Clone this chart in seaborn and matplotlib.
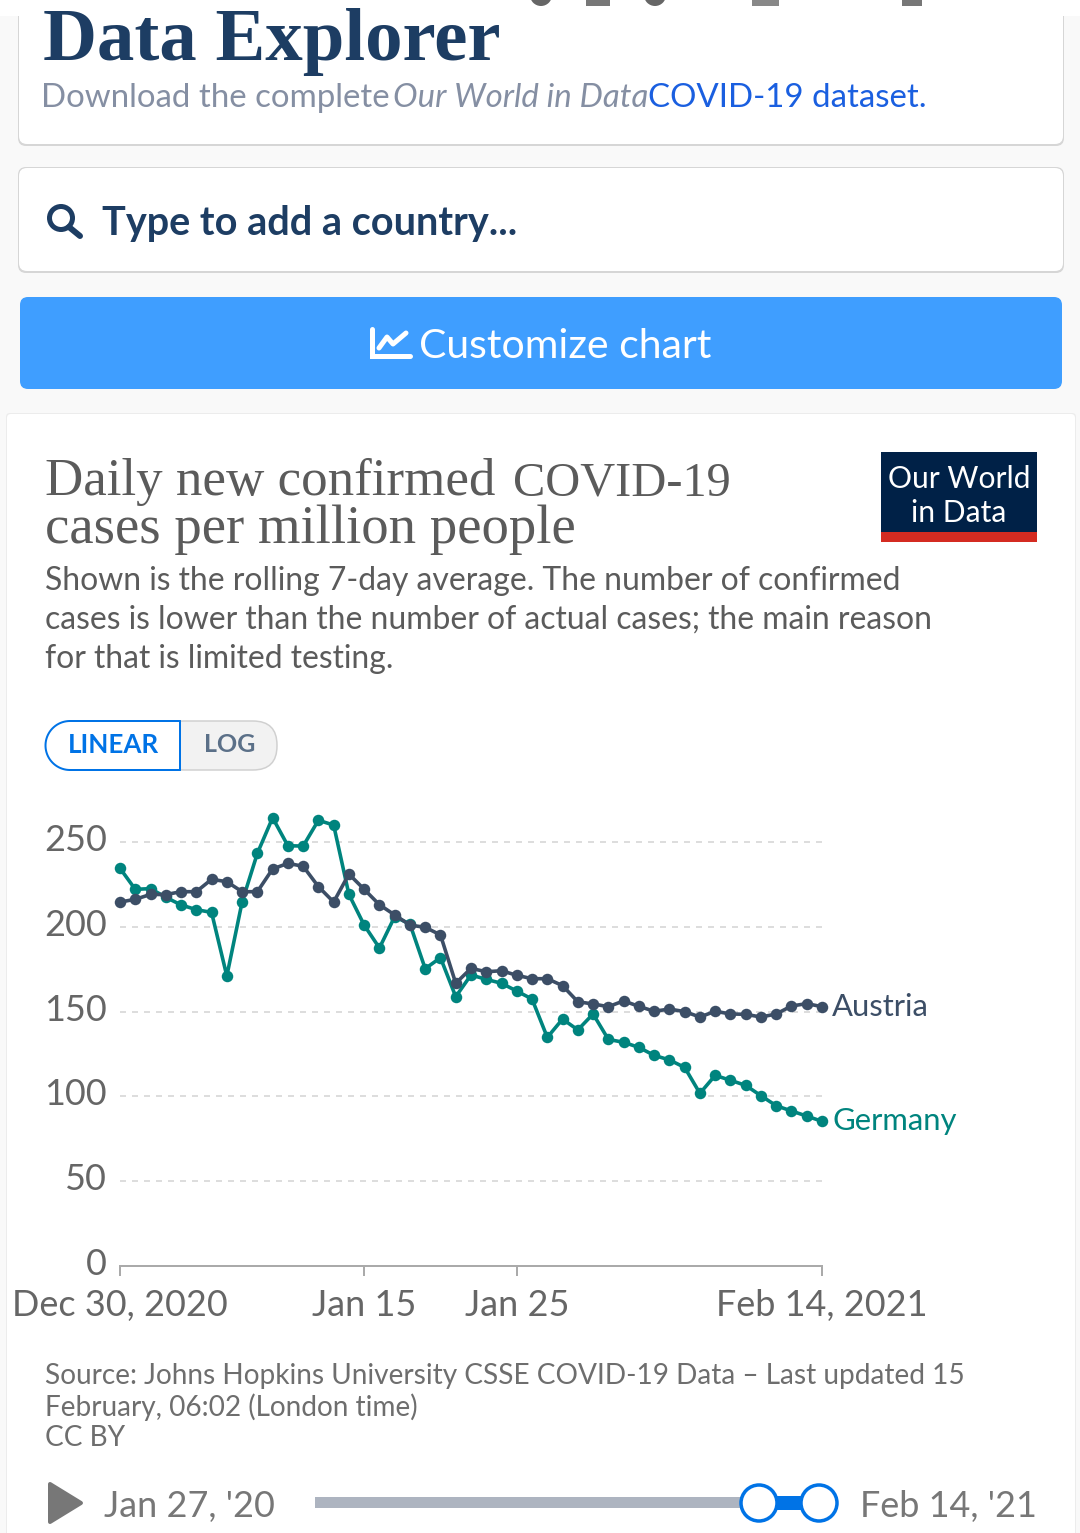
import numpy as np
import pandas as pd
import matplotlib
matplotlib.use('Agg')
import matplotlib.pyplot as plt
from matplotlib.patches import FancyBboxPatch, Rectangle, Circle, Polygon
from matplotlib.transforms import ScaledTranslation
import seaborn as sns

dates = pd.date_range('2020-12-30', '2021-02-14', freq='D')

germany = [234.5, 222.1, 222.5, 217.4, 212.9, 210.1, 208.5, 171.0, 214.6, 243.3, 264.3, 247.8,
           247.6, 262.8, 260.0, 219.1, 201.0, 187.5, 206.0, 201.6, 175.3, 181.8, 158.8, 171.6,
           169.0, 166.7, 162.1, 157.4, 134.8, 145.6, 139.2, 148.6, 133.6, 131.9, 128.9, 124.2,
           121.5, 117.1, 101.8, 112.4, 109.5, 106.5, 100.4, 94.5, 91.4, 88.4, 85.3]
austria = [214.6, 216.2, 219.1, 219.0, 220.7, 220.7, 228.0, 226.6, 220.7, 220.7, 234.1, 237.4,
           235.7, 223.7, 214.6, 231.1, 222.1, 213.0, 207.0, 201.0, 199.7, 195.2, 166.7, 175.5,
           173.5, 174.1, 171.4, 169.4, 169.4, 165.3, 155.8, 154.5, 152.9, 156.3, 153.1, 150.2,
           151.5, 150.0, 146.8, 150.2, 148.6, 148.4, 146.8, 148.6, 153.3, 154.7, 152.9]

y_ticks = [0, 50, 100, 150, 200, 250]
x_ticks = ['2020-12-30', '2021-01-15', '2021-01-25', '2021-02-14']
x_tick_labels = ['Dec 30, 2020', 'Jan 15', 'Jan 25', 'Feb 14, 2021']
colors = {'Germany': '#00847e', 'Austria': '#3c4e66'}

W, H = 1080, 1533


def px(n):
    # css pixels to points at dpi 100
    return n * 72 / 100


sns.set_style('white')
plt.rcParams['font.family'] = ['Lato', 'DejaVu Sans']

fig = plt.figure(figsize=(W / 100, H / 100), dpi=100, facecolor='#f9f9f9')

# page furniture, drawn in pixel coordinates
bg = fig.add_axes([0, 0, 1, 1], zorder=0)
bg.set_xlim(0, W)
bg.set_ylim(H, 0)
bg.axis('off')


def card(x0, y0, x1, y1, fc='white', r=8, shadow='#d6d6d6'):
    if shadow:
        bg.add_patch(FancyBboxPatch((x0 - 1, y0 - 1), x1 - x0 + 2, y1 - y0 + 3,
                                    boxstyle=f'round,pad=0,rounding_size={r}',
                                    fc=shadow, ec='none'))
    bg.add_patch(FancyBboxPatch((x0, y0), x1 - x0, y1 - y0,
                                boxstyle=f'round,pad=0,rounding_size={r}',
                                fc=fc, ec='none'))


card(19, -20, 1063, 144)
card(19, 168, 1063, 271)
card(20, 297, 1062, 389, fc='#3f9eff', shadow=None)
card(7, 414, 1075, 1560, r=4, shadow='#ececec')

navy = '#1d3d63'
bg.text(43, 60, 'Data Explorer', family='Liberation Serif', weight='bold', fontsize=px(74.7),
        color=navy, va='baseline')
bg.add_patch(Rectangle((0, 0), W, 16, fc='white', ec='none'))
for cx in (541, 655):
    bg.add_patch(Circle((cx, -5), 11, fc='#666666', ec='none'))
for x0, wd, col in [(586, 24, '#777777'), (752, 27, '#888888'), (902, 20, '#777777')]:
    bg.add_patch(Rectangle((x0, 0), wd, 6, fc=col, ec='none'))

sub_grey = '#858fa3'
bg.text(41, 98, 'Download the complete', fontsize=px(33), color=sub_grey, va='center')
bg.text(393, 98, 'Our World in Data', fontsize=px(33), color=sub_grey, style='italic', va='center')
bg.text(648, 98, 'COVID-19 dataset.', fontsize=px(33), color='#1a5fe0', va='center')

# search box
bg.add_patch(Circle((61, 218), 11.5, fc='none', ec=navy, lw=px(5)))
bg.plot([69, 80], [227, 236], color=navy, lw=px(6), solid_capstyle='round')
bg.text(102, 223, 'Type to add a country...', fontsize=px(39.6), color=navy, weight='bold', va='center')

# customize button
bg.plot([372, 372, 410], [329, 356, 356], color='white', lw=px(5), solid_joinstyle='miter')
bg.plot([379, 387, 393, 406], [348, 337, 344, 333], color='white', lw=px(5))
bg.text(419, 346, 'Customize chart', fontsize=px(41), color='white', va='center')

# chart header
title_grey = '#5b5b5b'
bg.text(45, 495, 'Daily new confirmed', family='Liberation Serif', fontsize=px(53),
        color=title_grey, va='baseline')
bg.text(513, 495, 'COVID-19', family='Liberation Serif', fontsize=px(48.4),
        color=title_grey, va='baseline')
bg.text(45, 543, 'cases per million people', family='Liberation Serif', fontsize=px(54.7),
        color=title_grey, va='baseline')
for y, line in zip([581, 620, 659], ['Shown is the rolling 7-day average. The number of confirmed',
                                     'cases is lower than the number of actual cases; the main reason',
                                     'for that is limited testing.']):
    bg.text(45, y, line, fontsize=px(31.9), color='#5b5b5b', va='center')

# logo
bg.add_patch(Rectangle((881, 452), 156, 90, fc='#002147', ec='none'))
bg.add_patch(Rectangle((881, 532), 156, 10, fc='#d42b21', ec='none'))
bg.text(959, 479, 'Our World', fontsize=px(30), color='white', ha='center', va='center')
bg.text(959, 513, 'in Data', fontsize=px(30), color='white', ha='center', va='center')

# scale toggle
bg.add_patch(FancyBboxPatch((160, 721), 117, 49, boxstyle='round,pad=0,rounding_size=24',
                            fc='#f2f2f2', ec='#d0d0d0', lw=px(1.5)))
bg.add_patch(FancyBboxPatch((46, 721), 134, 49, boxstyle='round,pad=0,rounding_size=24',
                            fc='white', ec='none'))
bg.add_patch(Rectangle((150, 721), 30, 49, fc='white', ec='none'))
bg.plot([180, 70], [721, 721], color='#0073e6', lw=px(2))
bg.plot([180, 70], [770, 770], color='#0073e6', lw=px(2))
bg.plot([180, 180], [721, 770], color='#0073e6', lw=px(2))
theta = np.linspace(np.pi / 2, 3 * np.pi / 2, 40)
bg.plot(70 + 24.5 * np.cos(theta), 745.5 - 24.5 * np.sin(theta), color='#0073e6', lw=px(2))
bg.text(113, 745, 'LINEAR', fontsize=px(26), color='#0073e6', weight='bold', ha='center', va='center')
bg.text(229.5, 745, 'LOG', fontsize=px(25), color='#5b7088', weight='bold', ha='center', va='center')

# footer
for y, line in zip([1376, 1407, 1438], ['Source: Johns Hopkins University CSSE COVID-19 Data – Last updated 15',
                                        'February, 06:02 (London time)', 'CC BY']):
    bg.text(45, y, line, fontsize=px(28), color='#6e6e6e', va='center')

# timeline
bg.add_patch(Polygon([(50, 1484), (81, 1503), (50, 1522)], closed=True, fc='#777777', ec='#777777',
                     lw=px(4), joinstyle='round'))
bg.text(104, 1506, "Jan 27, '20", fontsize=px(36), color='#777777', va='center')
bg.text(860, 1506, "Feb 14, '21", fontsize=px(36), color='#777777', va='center')
bg.add_patch(Rectangle((315, 1497), 505, 11, fc='#adb4c0', ec='none'))
bg.add_patch(Rectangle((759, 1496), 60, 14, fc='#0073e6', ec='none'))
for cx in (759, 819):
    bg.add_patch(Circle((cx, 1503), 18, fc='white', ec='#0073e6', lw=px(3.5), zorder=3))

# the chart itself
top_val = (1266 - 800) / 1.696
ax = fig.add_axes([120 / W, 1 - 1266 / H, 702 / W, (1266 - 800) / H], zorder=1)
ax.patch.set_alpha(0)

df = pd.DataFrame({'date': list(dates) * 2,
                   'cases': germany + austria,
                   'country': ['Germany'] * len(dates) + ['Austria'] * len(dates)})
sns.lineplot(data=df, x='date', y='cases', hue='country', hue_order=['Germany', 'Austria'],
             palette=colors, marker='o', markersize=px(11.5), markeredgewidth=0, linewidth=px(3.6),
             dashes=False, errorbar=None, legend=False, clip_on=False, ax=ax)

ax.set_xlim(dates[0], dates[-1])
ax.set_ylim(0, top_val)
ax.set_xlabel('')
ax.set_ylabel('')
ax.set_yticks(y_ticks)
ax.set_xticks(pd.to_datetime(x_ticks))
ax.set_xticklabels(x_tick_labels)
ax.tick_params(axis='y', length=0, pad=px(13), labelsize=px(36), labelcolor='#666666')
ax.tick_params(axis='x', bottom=True, length=px(10), width=px(2), color='#aaaaaa', pad=px(13),
               labelsize=px(36), labelcolor='#666666')
# lift the y labels a little off their gridlines
lift = ScaledTranslation(0, px(4.5) / 72, fig.dpi_scale_trans)
for lab in ax.get_yticklabels():
    lab.set_transform(lab.get_transform() + lift)
ax.yaxis.grid(True, color='#dddddd', linewidth=px(2), linestyle=(0, (3, 3)))
ax.set_axisbelow(True)
sns.despine(ax=ax, left=True, top=True, right=True)
ax.spines['bottom'].set_color('#aaaaaa')
ax.spines['bottom'].set_linewidth(px(2))

for name, vals in [('Austria', austria), ('Germany', germany)]:
    ax.annotate(name, (dates[-1], vals[-1]), xytext=(px(10), 0), textcoords='offset points',
                fontsize=px(31), color=colors[name], va='center')

fig.savefig('out.png', dpi=100, facecolor=fig.get_facecolor())
